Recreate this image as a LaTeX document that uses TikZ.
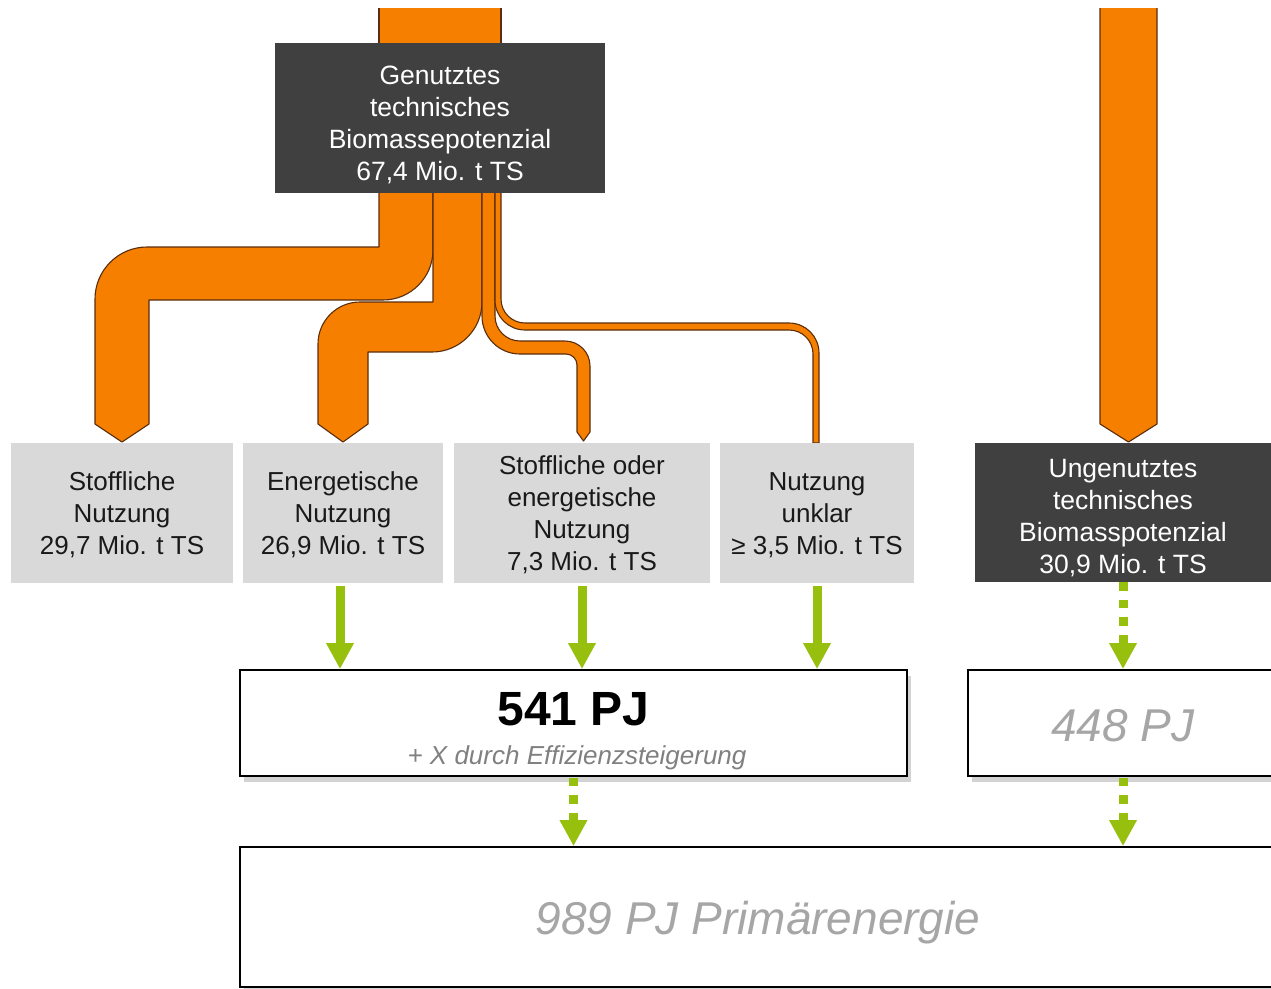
\documentclass[tikz,border=0pt]{standalone}
\usepackage{fontspec}
\setmainfont{Liberation Sans}
\usetikzlibrary{arrows.meta,shadows}
\definecolor{orng}{HTML}{F67F00}
\definecolor{brn}{HTML}{5A2D0C}
\definecolor{dark}{HTML}{404040}
\definecolor{lgray}{HTML}{D9D9D9}
\definecolor{grn}{HTML}{97BF0D}
\definecolor{txtgray}{HTML}{A6A6A6}
\definecolor{subgray}{HTML}{808080}
\begin{document}
\begin{tikzpicture}[x=1pt,y=-1pt,
  flow/.style={fill=orng,draw=brn,line width=1.1pt,line join=round},
  darkbox/.style={fill=dark,inner sep=0pt},
  darktxt/.style={text=white,inner sep=0pt,align=center,font=\fontsize{26.5}{32}\selectfont},
  graybox/.style={fill=lgray,inner sep=0pt,minimum height=140pt},
  graytxt/.style={text=black!90,inner sep=0pt,align=center,font=\fontsize{26}{32}\selectfont},
  resbox/.style={fill=white,draw=black,line width=1.8pt,inner sep=0pt,minimum height=106pt,
    drop shadow={shadow xshift=4pt,shadow yshift=-6pt,opacity=0.35}},
  garrow/.style={draw=grn,line width=9pt,-{Triangle[width=26pt,length=26pt]}},
  gdots/.style={garrow,dash pattern=on 8.5pt off 9pt},
  bigtxt/.style={font=\fontsize{46}{54}\selectfont\itshape,text=txtgray,inner sep=0pt},
]
\useasboundingbox (0,0) rectangle (1271,988);
\clip (0,0) rectangle (1271,988);

% orange trunk and flows
\draw[flow] (379,8) -- (379,60) -- (501,60) -- (501,8);
\draw[flow] (1100,8) -- (1100,424) -- (1128.5,442) -- (1157,424) -- (1157,8);
% flow 1: Stoffliche Nutzung
\draw[flow] (379,180) -- (379,247) -- (147,247)
  .. controls (118.3,247) and (95,270.3) .. (95,299) -- (95,424) -- (122,442) -- (149,424)
  -- (149,300) -- (383,300) .. controls (410.6,300) and (433,277.4) .. (433,250) -- (433,180) -- cycle;
% flow 2: Energetische Nutzung
\draw[flow] (433,180) -- (433,302) -- (360,302)
  .. controls (336.8,302) and (318,320.8) .. (318,344) -- (318,424) -- (343,442) -- (368,424)
  -- (368,352) -- (432,352) .. controls (459.6,352) and (482,329.6) .. (482,302) -- (482,180) -- cycle;
% flow 3: Stoffliche oder energetische Nutzung
\draw[flow] (482,180) -- (482,316) .. controls (482,337) and (499,354) .. (520,354) -- (566,354)
  .. controls (572.1,354) and (577,358.9) .. (577,365) -- (577,432) -- (583.5,441) -- (590,432)
  -- (590,366) .. controls (590,352.2) and (578.8,341) .. (565,341) -- (520,341)
  .. controls (506.2,341) and (495,329.8) .. (495,316) -- (495,180) -- cycle;
% flow 4: Nutzung unklar
\draw[flow] (495,180) -- (495,300) .. controls (495,316.6) and (508.4,330) .. (525,330) -- (789,330)
  .. controls (802.3,330) and (813,340.7) .. (813,354) -- (813,443) -- (819,443) -- (819,353)
  .. controls (819,336.4) and (805.6,323) .. (789,323) -- (525,323)
  .. controls (511.7,323) and (501,312.3) .. (501,299) -- (501,180) -- cycle;

% boxes
\node[darkbox,minimum width=330pt,minimum height=150pt] (gen) at (440,118) {};
\node[darktxt] (gentxt) at ([yshift=-7pt]gen.center)
  {Genutztes\\technisches\\Biomassepotenzial\\67,4 Mio. t TS};
\node[graybox,minimum width=222pt] (b1) at (122,513) {};
\node[graybox,minimum width=200pt] (b2) at (343,513) {};
\node[graybox,minimum width=256pt] (b3) at (582,513) {};
\node[graybox,minimum width=194pt] (b4) at (817,513) {};
\node[graytxt] (b1txt) at ([yshift=-2pt]b1.center) {Stoffliche\\Nutzung\\29,7 Mio. t TS};
\node[graytxt] (b2txt) at ([yshift=-2pt]b2.center) {Energetische\\Nutzung\\26,9 Mio. t TS};
\node[graytxt] (b3txt) at ([yshift=-2pt]b3.center) {Stoffliche oder\\energetische\\Nutzung\\7,3 Mio. t TS};
\node[graytxt] (b4txt) at ([yshift=-2pt]b4.center) {Nutzung\\unklar\\≥ 3,5 Mio. t TS};
\node[darkbox,minimum width=296pt,minimum height=139pt] (ung) at (1123,512.5) {};
\node[darktxt] (ungtxt) at ([yshift=-6pt]ung.center)
  {Ungenutztes\\technisches\\Biomasspotenzial\\30,9 Mio. t TS};

\node[resbox,minimum width=667pt] (r541) at (573.5,723) {};
\node[resbox,minimum width=310pt] (r448) at (1123,723) {};
\node[resbox,minimum width=1036pt,minimum height=140pt] (rbig) at (758,917) {};

\node[font=\fontsize{48}{56}\selectfont\bfseries,inner sep=0pt] (t541) at (573.5,709) {541 PJ};
\node[font=\fontsize{26}{30}\selectfont\itshape,text=subgray,inner sep=0pt] (s541) at (577,758)
  {+ X durch Effizienzsteigerung};
\node[bigtxt] (t448) at (1123,726) {448 PJ};
\node[bigtxt] (tbig) at (758,923) {989 PJ Primärenergie};

% green arrows
\draw[garrow] ([xshift=-3pt,yshift=-3pt]b2.south) -- ([xshift=-3pt]b2.south |- r541.north);
\draw[garrow] ([yshift=-3pt]b3.south) -- (b3.south |- r541.north);
\draw[garrow] ([yshift=-3pt]b4.south) -- (b4.south |- r541.north);
\draw[gdots] (ung.south) -- (ung.south |- r448.north);
\draw[gdots] ([yshift=-1pt]r541.south) -- (r541.south |- rbig.north);
\draw[gdots] ([yshift=-1pt]r448.south) -- (r448.south |- rbig.north);
\end{tikzpicture}
\end{document}
